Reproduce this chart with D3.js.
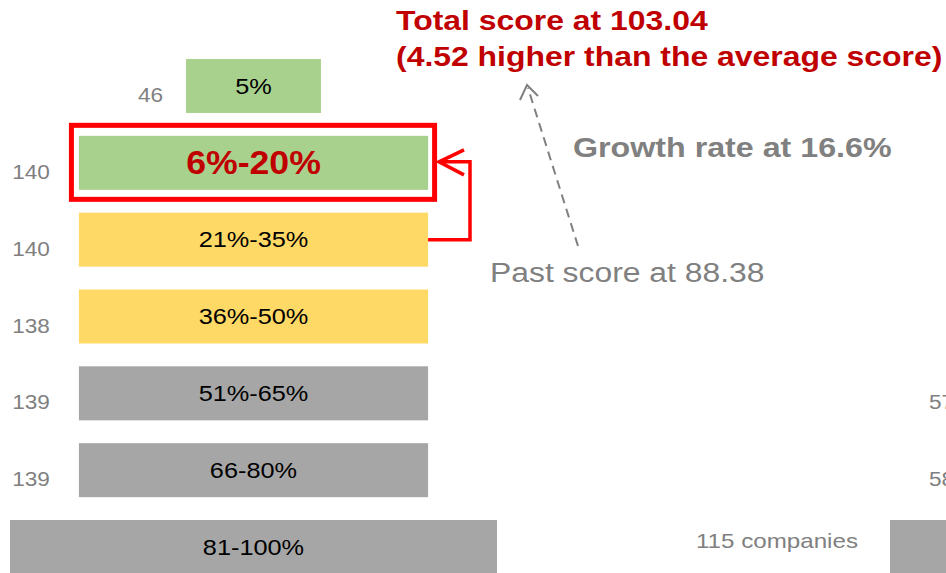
<!DOCTYPE html>
<html>
<head>
<meta charset="utf-8">
<script src="https://cdn.jsdelivr.net/npm/d3@7"></script>
<style>
  body { margin: 0; background: #fff; }
  text { font-family: "Liberation Sans", Arial, sans-serif; }
</style>
</head>
<body>
<div id="chart"></div>
<script>
// pyramid tiers (left pyramid)
var tiers = ["5%", "6%-20%", "21%-35%", "36%-50%", "51%-65%", "66-80%", "81-100%"];
var counts = [46, 140, 140, 138, 139, 139, null];
var tierShare = [0.277, 0.717, 0.717, 0.717, 0.717, 0.717, 1];
var tierGroup = ["top", "top", "mid", "mid", "low", "low", "low"];

// right pyramid (mostly cut off)
var rightCounts = [57, 58];
var rightTiers = ["51%-65%", "66-80%"];
var rightBottomLabel = "115 companies";

var highlight = "6%-20%";
var totalScore = 103.04, aboveAvg = 4.52, pastScore = 88.38, growth = 16.6;

var width = 946, height = 573;
var svg = d3.select("#chart").append("svg")
  .attr("width", width)
  .attr("height", height);

var y = d3.scaleBand().domain(tiers).range([59, 574]).paddingInner(0.297);
var w = d3.scaleLinear().domain([0, 1]).range([0, 487]);
var cx = 253.5;
var color = d3.scaleOrdinal().domain(["top", "mid", "low"]).range(["#a9d18e", "#ffd966", "#a6a6a6"]);

// the source text is a bit wider than the font, stretch it
function stretch(sel, k) {
  sel.each(function() {
    var len = this.getComputedTextLength();
    d3.select(this)
      .attr("textLength", len * k)
      .attr("lengthAdjust", "spacingAndGlyphs");
  });
}

var rows = tiers.map(function(t, i) {
  return {tier: t, count: counts[i], share: tierShare[i], group: tierGroup[i]};
});

// Bars
svg.selectAll("rect.tier")
  .data(rows)
  .enter()
  .append("rect")
  .attr("class", "tier")
  .attr("x", function(d) { return cx - w(d.share) / 2; })
  .attr("y", function(d) { return y(d.tier); })
  .attr("width", function(d) { return w(d.share); })
  .attr("height", y.bandwidth())
  .attr("fill", function(d) { return color(d.group); });

// Bar labels
svg.selectAll("text.tierLabel")
  .data(rows)
  .enter()
  .append("text")
  .attr("class", "tierLabel")
  .attr("x", cx)
  .attr("y", function(d) { return y(d.tier) + y.bandwidth() / 2; })
  .attr("dy", "0.35em")
  .attr("text-anchor", "middle")
  .attr("font-size", function(d) { return d.tier === highlight ? 33 : 22; })
  .attr("font-weight", function(d) { return d.tier === highlight ? "bold" : "normal"; })
  .attr("fill", function(d) { return d.tier === highlight ? "#c00000" : "#000"; })
  .text(function(d) { return d.tier; })
  .each(function(d) { d3.select(this).call(stretch, d.tier === highlight ? 1.08 : 1.15); });

// Count labels
svg.selectAll("text.count")
  .data(rows.filter(function(d) { return d.count !== null; }))
  .enter()
  .append("text")
  .attr("class", "count")
  .attr("x", function(d) { return cx - w(d.share) / 2 - (d.share < 0.5 ? 23 : 29); })
  .attr("y", function(d) { return y(d.tier) + y.bandwidth() / 2 + 9; })
  .attr("dy", "0.35em")
  .attr("text-anchor", "end")
  .attr("font-size", 20)
  .attr("fill", "#808080")
  .text(function(d) { return d.count; })
  .call(stretch, 1.13);

// Right pyramid fragment
svg.selectAll("text.rcount")
  .data(rightCounts)
  .enter()
  .append("text")
  .attr("class", "rcount")
  .attr("x", 929)
  .attr("y", function(d, i) { return y(rightTiers[i]) + y.bandwidth() / 2 + 9; })
  .attr("dy", "0.35em")
  .attr("font-size", 20)
  .attr("fill", "#808080")
  .text(function(d) { return d; })
  .call(stretch, 1.13);

svg.append("rect")
  .attr("x", 890)
  .attr("y", y("81-100%"))
  .attr("width", 100)
  .attr("height", y.bandwidth())
  .attr("fill", "#a6a6a6");

svg.append("text")
  .attr("x", 858)
  .attr("y", y("81-100%") + y.bandwidth() / 2 - 6)
  .attr("dy", "0.35em")
  .attr("text-anchor", "end")
  .attr("font-size", 21)
  .attr("fill", "#808080")
  .text(rightBottomLabel)
  .call(stretch, 1.15);

// Highlight box
var hb = rows[1];
svg.append("rect")
  .attr("x", cx - w(hb.share) / 2 - 7.5)
  .attr("y", y(hb.tier) - 10.5)
  .attr("width", w(hb.share) + 14)
  .attr("height", y.bandwidth() + 20)
  .attr("fill", "none")
  .attr("stroke", "#ff0000")
  .attr("stroke-width", 5);

// Red connector from 21%-35% up to the highlighted tier
var rightEdge = cx + w(hb.share) / 2;
var yTop = y(hb.tier) + y.bandwidth() / 2 - 1;
var yLow = y("21%-35%") + y.bandwidth() / 2;
svg.append("path")
  .attr("d", "M" + rightEdge + "," + yLow + " H470 V" + yTop + " H439")
  .attr("fill", "none")
  .attr("stroke", "#ff0000")
  .attr("stroke-width", 3.5);
svg.append("path")
  .attr("d", "M464," + (yTop - 12) + " L439," + yTop + " L464," + (yTop + 13))
  .attr("fill", "none")
  .attr("stroke", "#ff0000")
  .attr("stroke-width", 3.5);

// Dashed arrow
svg.append("line")
  .attr("x1", 578).attr("y1", 246)
  .attr("x2", 528).attr("y2", 88)
  .attr("stroke", "#808080")
  .attr("stroke-width", 2)
  .attr("stroke-dasharray", "9,6");
svg.append("path")
  .attr("d", "M520,100 L527,85 L538,96")
  .attr("fill", "none")
  .attr("stroke", "#808080")
  .attr("stroke-width", 2);

// Annotations
svg.append("text")
  .attr("x", 396).attr("y", 30)
  .attr("font-size", 28).attr("font-weight", "bold")
  .attr("fill", "#c00000")
  .text("Total score at " + totalScore.toFixed(2))
  .call(stretch, 1.14);
svg.append("text")
  .attr("x", 396).attr("y", 66)
  .attr("font-size", 28).attr("font-weight", "bold")
  .attr("fill", "#c00000")
  .text("(" + aboveAvg.toFixed(2) + " higher than the average score)")
  .call(stretch, 1.14);

svg.append("text")
  .attr("x", 573).attr("y", 157)
  .attr("font-size", 28).attr("font-weight", "bold")
  .attr("fill", "#808080")
  .text("Growth rate at " + growth + "%")
  .call(stretch, 1.15);

svg.append("text")
  .attr("x", 490).attr("y", 282)
  .attr("font-size", 27)
  .attr("fill", "#808080")
  .text("Past score at " + pastScore.toFixed(2))
  .call(stretch, 1.18);
</script>
</body>
</html>
